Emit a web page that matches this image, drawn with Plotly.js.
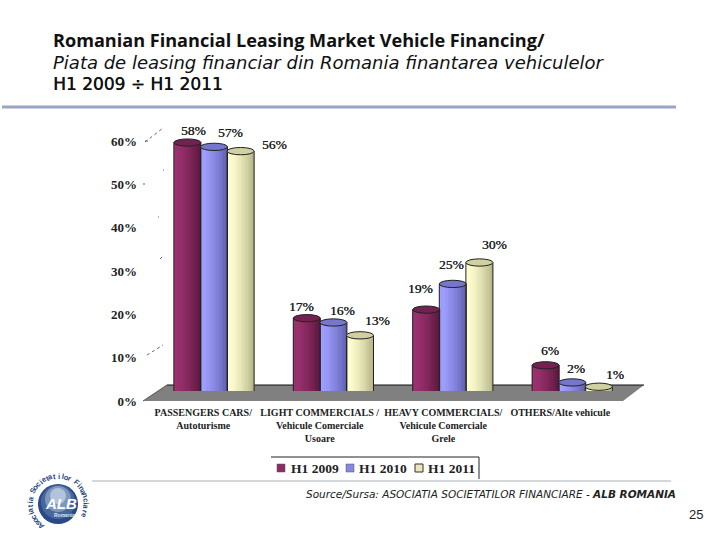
<!DOCTYPE html>
<html><head><meta charset="utf-8">
<script src="https://cdn.plot.ly/plotly-3.0.1.min.js"></script>
<style>html,body{margin:0;padding:0;background:#fff}</style></head>
<body><div id="chart" style="width:720px;height:540px"></div>
<script>
const categories = ["PASSENGERS CARS/<br>Autoturisme","LIGHT COMMERCIALS /<br>Vehicule Comerciale<br>Usoare","HEAVY COMMERCIALS/<br>Vehicule Comerciale<br>Grele","OTHERS/Alte vehicule"];
const seriesNames = ["H1 2009","H1 2010","H1 2011"];
const h12009 = [58,17,19,6];
const h12010 = [57,16,25,2];
const h12011 = [56,13,30,1];
const yTickVals = [0,10,20,30,40,50,60];
const yTickText = ["0%","10%","20%","30%","40%","50%","60%"];
const seriesValues = [h12009,h12010,h12011];
const lightColors = [[156,50,112],[160,160,255],[255,255,210]];
const darkColors = [[92,24,62],[96,96,176],[182,182,134]];
const midColors = ["#8f2c64","#8686e4","#e8e8ba"];
// label offsets in pixels from bar-top centre
const labelDx = [[6,16,34],[-5,9,17],[-6,-1,15],[4,4,16]];
const labelDy = [[-12,-14,-7],[-12,-12,-15],[-21,-19,-18],[-15,-14,-12]];
const catLabelShift = [-0.09,-0.115,-0.08,-0.10];

const W=720,H=540;
const px=x=>x/W, py=y=>1-y/H;
const groupStep=119.4, firstCentre=214, barW=27/groupStep, seriesStep=26.6/groupStep;
const idx=categories.map((c,i)=>i);
const ry=0.85;
const strips=12;
const traces=[];
traces.push({type:"scatter",mode:"none",x:[0],y:[0],xaxis:"x",yaxis:"y",showlegend:false,hoverinfo:"skip"});
function mix(a,b,t){return "rgb("+a.map((v,i)=>Math.round(v+(b[i]-v)*t)).join(",")+")";}
seriesValues.forEach((vals,s)=>{
  const xs=idx.map(i=>i+(s-1)*seriesStep);
  traces.push({type:"bar",name:seriesNames[s],x:xs,y:vals,width:barW,xaxis:"x",yaxis:"y2",
    marker:{color:midColors[s],line:{width:0}},showlegend:false,hoverinfo:"skip"});
  for(let k=0;k<strips;k++){
    const t=k/(strips-1);
    traces.push({type:"bar",x:xs,y:vals,width:barW/strips*1.08,
      offset:-barW/2+barW*k/strips,xaxis:"x",yaxis:"y2",
      marker:{color:mix(lightColors[s],darkColors[s],Math.pow(t,1.5)),line:{width:0}},showlegend:false,hoverinfo:"skip"});
  }
});
const shapes=[];
shapes.push({type:"path",layer:"below",xref:"paper",yref:"paper",
  path:`M ${px(143)} ${py(401)} L ${px(167)} ${py(385)} L ${px(644)} ${py(385)} L ${px(623)} ${py(401)} Z`,
  fillcolor:"#808080",line:{width:0}});
shapes.push({type:"line",layer:"below",xref:"paper",yref:"paper",x0:px(167),x1:px(644),y0:py(385),y1:py(385),line:{color:"#111",width:1}});
shapes.push({type:"line",layer:"below",xref:"paper",yref:"paper",x0:px(167),x1:px(143),y0:py(385),y1:py(401),line:{color:"#555",width:1}});
seriesValues.forEach((vals,s)=>vals.forEach((v,i)=>{
  const c=i+(s-1)*seriesStep;
  shapes.push({type:"circle",layer:"below",xref:"x",yref:"y2",x0:c-barW/2,x1:c+barW/2,y0:-ry,y1:ry,fillcolor:midColors[s],line:{color:"#222",width:1}});
  shapes.push({type:"line",layer:"above",xref:"x",yref:"y2",x0:c-barW/2,x1:c-barW/2,y0:0,y1:v,line:{color:"#222",width:1}});
  shapes.push({type:"line",layer:"above",xref:"x",yref:"y2",x0:c+barW/2,x1:c+barW/2,y0:0,y1:v,line:{color:"#222",width:1}});
  shapes.push({type:"circle",layer:"above",xref:"x",yref:"y2",x0:c-barW/2,x1:c+barW/2,y0:v-ry,y1:v+ry,
    fillcolor:mix(lightColors[s],darkColors[s],0.65),line:{color:"#222",width:1}});
}));
// stray dotted ticks
[[145,142,163,128],[147,355,163,345],[143,184,145,184],[163,170,164,170],[158,217,159,217],[160,259,164,255],[145,141,150,141]].forEach(a=>{
  shapes.push({type:"line",xref:"paper",yref:"paper",x0:px(a[0]),y0:py(a[1]),x1:px(a[2]),y1:py(a[3]),line:{color:"#666",width:1,dash:"dot"}});
});
// rules
shapes.push({type:"line",xref:"paper",yref:"paper",x0:px(2),x1:px(676),y0:py(107),y1:py(107),line:{color:"#9aa5c4",width:3}});
shapes.push({type:"line",xref:"paper",yref:"paper",x0:px(92),x1:px(671),y0:py(481),y1:py(481),line:{color:"#a8b0b8",width:1}});
shapes.push({type:"line",xref:"paper",yref:"paper",x0:px(271),x1:px(479),y0:py(457),y1:py(457),line:{color:"#222",width:1}});
shapes.push({type:"line",xref:"paper",yref:"paper",x0:px(479),x1:px(479),y0:py(457),y1:py(479),line:{color:"#222",width:1}});
// logo
const lx=58,ly=504;
function disc(r,dx,dy,col){shapes.push({type:"circle",xref:"paper",yref:"paper",x0:px(lx+dx-r),x1:px(lx+dx+r),y0:py(ly+dy+r),y1:py(ly+dy-r),fillcolor:col,line:{width:0}});}
disc(20,0,0,"#2a4a86");disc(17,0,-2,"#47689f");disc(13,0,-5,"#7d97bf");disc(8,0,-8,"#b3c3da");

const annotations=[];
function txt(t,x,y,size,family,color,extra){annotations.push(Object.assign({text:t,xref:"paper",yref:"paper",x:px(x),y:py(y),xanchor:"left",yanchor:"middle",showarrow:false,font:{size:size,family:family,color:color}},extra||{}));}
seriesValues.forEach((vals,s)=>vals.forEach((v,i)=>{
  annotations.push({text:v+"%",xref:"x",yref:"y2",x:i+(s-1)*seriesStep,y:v,xshift:labelDx[i][s],yshift:-labelDy[i][s],
    showarrow:false,font:{family:"Liberation Serif",size:13.5,color:"#222",shadow:"0.3px 0 0 #222"}});
}));
// legend key
const legendSwatchX=[277,346,415];
const legendTextX=[289,357,426];
seriesNames.forEach((n,s)=>{
  shapes.push({type:"rect",xref:"paper",yref:"paper",x0:px(legendSwatchX[s]),x1:px(legendSwatchX[s]+8),y0:py(472),y1:py(464),fillcolor:midColors[s],line:{color:s==2?"#333":"#556",width:s==2?1:0.5}});
  txt("<b>"+n+"</b>",legendTextX[s],468,13.5,"Liberation Serif","#222");
});
txt("<b>Romanian Financial Leasing Market Vehicle Financing/</b>",51,40,18.1,"Open Sans","#111");
txt("<i>Piata de leasing financiar din Romania finantarea vehiculelor</i>",51,62,18,"DejaVu Sans","#111");
annotations.push({text:"H1 2009 ÷ H1 2011",xref:"paper",yref:"paper",x:px(51),y:py(84),xanchor:"left",yanchor:"middle",showarrow:false,font:{size:17,family:"DejaVu Sans",color:"#111",shadow:"0.4px 0 0 #111"}});
txt("<i>Source/Sursa: ASOCIATIA SOCIETATILOR FINANCIARE - <b>ALB ROMANIA</b></i>",304,494,10.5,"DejaVu Sans","#222");
txt("25",687,514,13,"Liberation Sans","#222");
txt("<b><i>ALB</i></b>",lx-15,ly-1,15,"Liberation Sans","#fff");
txt("<b>Romania</b>",lx-6,ly+11,5,"Liberation Sans","#dfe6f0");
const ring="Asociatia Societatilor Financiare";
[...ring].forEach((ch,i)=>{
  const a=(-142+(i/(ring.length-1))*255)*Math.PI/180;
  const R=28;
  const cx=lx+R*Math.sin(a), cy=ly-R*Math.cos(a);
  annotations.push({text:"<b>"+ch+"</b>",xref:"paper",yref:"paper",x:px(cx),y:py(cy),xanchor:"center",yanchor:"middle",showarrow:false,
    textangle:a*180/Math.PI,font:{size:7.5,family:"Liberation Sans",color:"#24457f"}});
});

const layout={
  width:W,height:H,margin:{l:0,r:0,t:0,b:0},paper_bgcolor:"#fff",plot_bgcolor:"rgba(0,0,0,0)",
  barmode:"overlay",showlegend:false,
  xaxis:{domain:[0,1],range:[-firstCentre/groupStep,(W-firstCentre)/groupStep],anchor:"y2",
    tickmode:"array",tickvals:idx.map(i=>i+catLabelShift[i]),ticktext:categories.map(c=>"<b>"+c+"</b>"),tickangle:0,
    ticks:"outside",ticklen:12,tickcolor:"rgba(0,0,0,0)",showgrid:false,zeroline:false,showline:false,
    tickfont:{family:"Liberation Serif",size:10,color:"#222"}},
  yaxis:{domain:[py(401),py(141)],range:[0,60],anchor:"free",position:px(137),side:"left",
    tickmode:"array",tickvals:yTickVals,ticktext:yTickText.map(t=>"<b>"+t+"</b>"),ticks:"",showgrid:false,zeroline:false,showline:false,
    tickfont:{family:"Liberation Serif",size:13,color:"#222"}},
  yaxis2:{domain:[py(391),py(391-257)],range:[0,60],visible:false,anchor:"x"},
  shapes:shapes,annotations:annotations
};
Plotly.newPlot("chart",traces,layout,{displayModeBar:false,staticPlot:true});
</script></body></html>
